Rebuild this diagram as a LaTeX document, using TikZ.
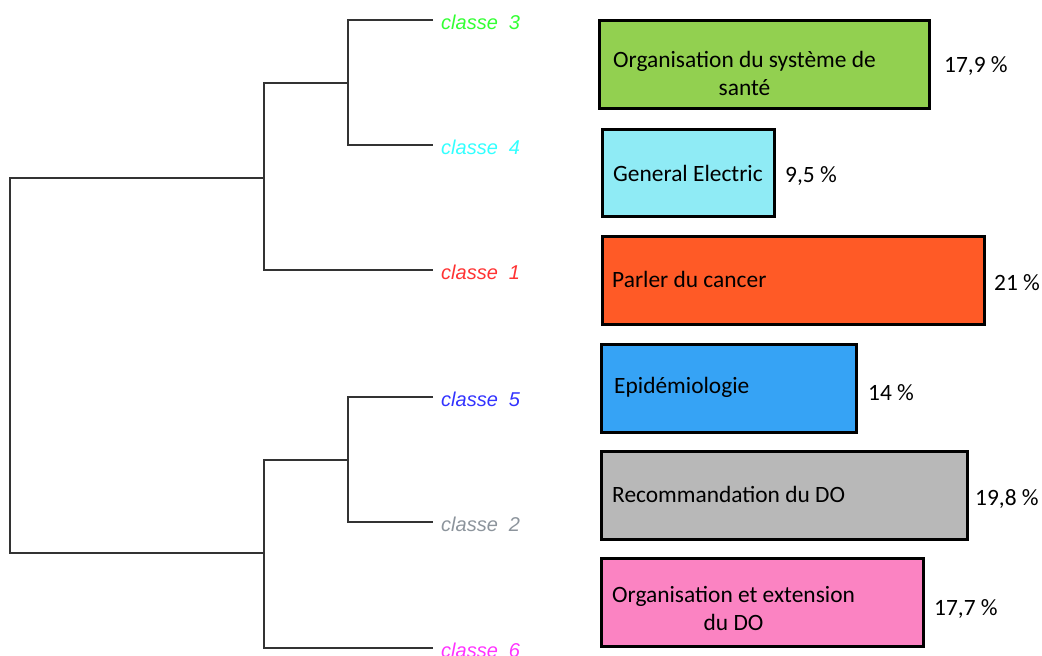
\documentclass[tikz,border=0pt]{standalone}
\usepackage{fontspec}
\setmainfont{Carlito}
\newfontfamily\labfont{Liberation Sans}
\usetikzlibrary{calc}

\definecolor{cgreen}{HTML}{33FF33}
\definecolor{ccyan}{HTML}{33FFFF}
\definecolor{cred}{HTML}{FF3333}
\definecolor{cblue}{HTML}{3333FF}
\definecolor{cgray}{HTML}{8C949C}
\definecolor{cmag}{HTML}{FF33FF}
\definecolor{fgreen}{HTML}{92D050}
\definecolor{fcyan}{HTML}{8FEBF5}
\definecolor{forange}{HTML}{FF5A26}
\definecolor{fblue}{HTML}{36A3F5}
\definecolor{fgray}{HTML}{B8B8B8}
\definecolor{fpink}{HTML}{FB83C2}
\definecolor{tree}{HTML}{333333}

\tikzset{
  branch/.style={draw=tree, line width=2pt},
  leaflabel/.style={anchor=base west, inner sep=0pt, font=\labfont\itshape\fontsize{20}{24}\selectfont},
  bar/.style={draw=black, line width=2.6pt, inner sep=0pt, outer sep=0pt, anchor=north west},
  bartext/.style={inner sep=0pt, font=\fontsize{23.4}{28}\selectfont},
  pct/.style={anchor=base west, inner sep=0pt, font=\fontsize{23.4}{28}\selectfont},
}

\begin{document}
\begin{tikzpicture}[x=1pt, y=-1pt]
\useasboundingbox (0,0) rectangle (1042,656);

% leaves and merge points of the dendrogram
\coordinate (l3) at (433,20);
\coordinate (l4) at (433,145);
\coordinate (l1) at (433,270);
\coordinate (l5) at (433,397);
\coordinate (l2) at (433,522);
\coordinate (l6) at (433,648);
\coordinate (n34) at (348,82.5);
\coordinate (n134) at (264,178);
\coordinate (n52) at (348,460);
\coordinate (n526) at (264,553);
\coordinate (root) at (10,365);

\draw[branch] (l3) -| (n34) |- (l4);
\draw[branch] (n34) -| (n134) |- (l1);
\draw[branch] (l5) -| (n52) |- (l2);
\draw[branch] (n52) -| (n526) |- (l6);
\draw[branch] (n134) -| (root) |- (n526);

% class labels
\node[leaflabel, text=cgreen] (c3) at ($(l3)+(8,9.5)$) {classe\ \ 3};
\node[leaflabel, text=ccyan]  (c4) at ($(l4)+(8,9.5)$) {classe\ \ 4};
\node[leaflabel, text=cred]   (c1) at ($(l1)+(8,9.5)$) {classe\ \ 1};
\node[leaflabel, text=cblue]  (c5) at ($(l5)+(8,9.5)$) {classe\ \ 5};
\node[leaflabel, text=cgray]  (c2) at ($(l2)+(8,9.5)$) {classe\ \ 2};
\node[leaflabel, text=cmag]   (c6) at ($(l6)+(8,9.5)$) {classe\ \ 6};

% bars
\node[bar, fill=fgreen,  minimum width=330, minimum height=88] (b3) at (599.5,20.5) {};
\node[bar, fill=fcyan,   minimum width=172, minimum height=87] (b4) at (602.5,129.5) {};
\node[bar, fill=forange, minimum width=382, minimum height=88] (b1) at (602.5,236.5) {};
\node[bar, fill=fblue,   minimum width=255, minimum height=88] (b5) at (601.5,344.5) {};
\node[bar, fill=fgray,   minimum width=366, minimum height=88] (b2) at (601.5,451.5) {};
\node[bar, fill=fpink,   minimum width=322, minimum height=88] (b6) at (601.5,558.5) {};

% bar texts
\node[bartext, anchor=west, align=center] (t3) at (613,73) {Organisation du système de\\santé};
\node[bartext, anchor=base west] (t4) at (613,181) {General Electric};
\node[bartext, anchor=base west] (t1) at (612,287) {Parler du cancer};
\node[bartext, anchor=base west] (t5) at (614,393) {Epidémiologie};
\node[bartext, anchor=base west] (t2) at (612,502) {Recommandation du DO};
\node[bartext, anchor=west, align=center] (t6) at (612,608) {Organisation et extension\\du DO};

% percentages
\node[pct] (p3) at (944,72) {17,9 \%};
\node[pct] (p4) at (785,182) {9,5 \%};
\node[pct] (p1) at (994,290) {21 \%};
\node[pct] (p5) at (868,400) {14 \%};
\node[pct] (p2) at (975,505) {19,8 \%};
\node[pct] (p6) at (934,615) {17,7 \%};
\end{tikzpicture}
\end{document}
